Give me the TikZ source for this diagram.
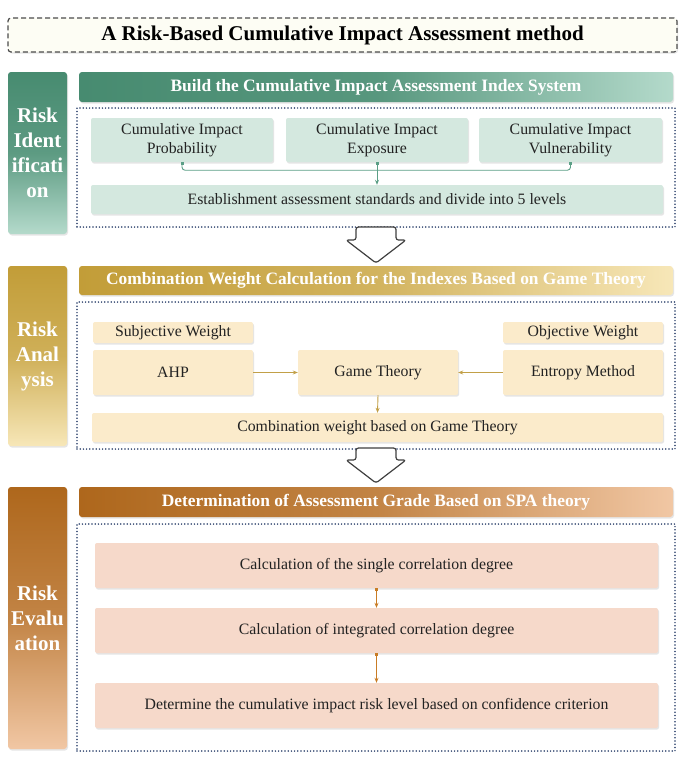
\documentclass[tikz,border=0pt]{standalone}
\usepackage{fontspec}
\setmainfont{Liberation Serif}
\usetikzlibrary{shadows,arrows.meta,calc}
\definecolor{gA}{HTML}{478B70}\definecolor{gB}{HTML}{B4DACB}\definecolor{gBox}{HTML}{D4E8DF}\definecolor{gCon}{HTML}{5B9F86}
\definecolor{yA}{HTML}{C29D38}\definecolor{yB}{HTML}{F7E7B8}\definecolor{yBox}{HTML}{FBEBCB}\definecolor{yCon}{HTML}{C2A048}
\definecolor{oA}{HTML}{AE671C}\definecolor{oB}{HTML}{F1C7A4}\definecolor{oBox}{HTML}{F6D9CA}\definecolor{oCon}{HTML}{C97C25}
\definecolor{navy}{HTML}{2A3F6B}\definecolor{txt}{HTML}{222222}
\begin{document}
\begin{tikzpicture}[x=1pt,y=-1pt,
  shd/.style={drop shadow={shadow xshift=1pt,shadow yshift=-1.5pt,opacity=0.22,fill=black!45}},
  bx/.style={rectangle,rounded corners=2pt,inner sep=0pt,align=center,text=txt,font=\fontsize{15.8}{19}\selectfont,shd},
  sidebar/.style={rectangle,rounded corners=3pt,inner sep=0pt,minimum width=59pt,align=center,text=white,font=\bfseries\fontsize{21}{25}\selectfont,shd},
  header/.style={rectangle,rounded corners=3pt,inner sep=0pt,minimum width=594pt,align=center,text=white,font=\bfseries\fontsize{17.4}{20}\selectfont,shd},
  dotbox/.style={rectangle,draw=navy,line width=1.7pt,dash pattern=on 0pt off 3.2pt,line cap=round,minimum width=598pt,inner sep=0pt},
  conn/.style={line width=0.9pt,-{Stealth[length=5pt,width=4pt]}},
  bigarrow/.style={draw=black!75,line width=1.2pt,fill=white,rounded corners=2.5pt,line join=round}]
\useasboundingbox[fill=white] (0,0) rectangle (685,761);

% title
\node[rectangle,rounded corners=3pt,draw=black!70,line width=1.2pt,dash pattern=on 5pt off 3pt,fill={rgb,255:red,253;green,253;blue,244},minimum width=669pt,minimum height=34pt,inner sep=0pt,font=\bfseries\fontsize{21}{25}\selectfont,shd] (title) at (342.5,35) {A Risk-Based Cumulative Impact Assessment method};

% ---------- section 1
\node[sidebar,minimum height=162pt,top color=gA,bottom color=gB,middle color=gA!80!gB] (bar1) at (37.5,153) {Risk\\Ident\\ificati\\on};
\node[header,minimum height=30pt,left color=gA,right color=gB,middle color=gA!85!gB] (hd1) at (376,87) {Build the Cumulative Impact Assessment Index System};
\node[dotbox,minimum height=119pt] (dot1) at (376,167.5) {};
\node[bx,fill=gBox,minimum width=182pt,minimum height=44pt] (p) at (182,140) {Cumulative Impact\\Probability};
\node[bx,fill=gBox,minimum width=182pt,minimum height=44pt] (e) at (377,140) {Cumulative Impact\\Exposure};
\node[bx,fill=gBox,minimum width=183pt,minimum height=44pt] (v) at (570.5,140) {Cumulative Impact\\Vulnerability};
\node[bx,fill=gBox,minimum width=572pt,minimum height=29pt] (est) at (377,199.5) {Establishment assessment standards and divide into 5 levels};
\draw[gCon,line width=0.9pt,rounded corners=3pt] (p.south) |- ($(e.south)+(0,8)$) -| (v.south);
\draw[gCon,conn] (e.south) -- (est.north);
\fill[gCon] ($(p.south)+(-1.5,0)$) rectangle ++(3,3);
\fill[gCon] ($(e.south)+(-1.5,0)$) rectangle ++(3,3);
\fill[gCon] ($(v.south)+(-1.5,0)$) rectangle ++(3,3);

% big arrow 1
\draw[bigarrow] (356,227) -- (356,240) -- (346,240) -- (376,263) -- (406,240) -- (396,240) -- (396,227) -- cycle;

% ---------- section 2
\node[sidebar,minimum height=180pt,top color=yA,bottom color=yB,middle color=yA!75!yB] (bar2) at (37.5,356) {Risk\\Anal\\ysis};
\node[header,minimum height=29pt,left color=yA,right color=yB,middle color=yA!70!yB] (hd2) at (376,280.5) {Combination Weight Calculation for the Indexes Based on Game Theory};
\node[dotbox,minimum height=147pt] (dot2) at (376,375.5) {};
\node[bx,fill=yBox,minimum width=160pt,minimum height=21pt] (sw) at (173,332.5) {Subjective Weight};
\node[bx,fill=yBox,minimum width=160pt,minimum height=45pt] (ahp) at (173,372.5) {AHP};
\node[bx,fill=yBox,minimum width=160pt,minimum height=45pt] (gt) at (378,372.5) {Game Theory};
\node[bx,fill=yBox,minimum width=160pt,minimum height=21pt] (ow) at (583,332.5) {Objective Weight};
\node[bx,fill=yBox,minimum width=160pt,minimum height=45pt] (ent) at (583,372.5) {Entropy Method};
\node[bx,fill=yBox,minimum width=571pt,minimum height=29pt] (comb) at (377.5,427.5) {Combination weight based on Game Theory};
\draw[yCon,conn] (ahp.east) -- (gt.west);
\draw[yCon,conn] (ent.west) -- (gt.east);
\draw[yCon,conn] (gt.south) -- (comb.north);

% big arrow 2
\draw[bigarrow] (356,448) -- (356,460) -- (346,460) -- (376,483) -- (406,460) -- (396,460) -- (396,448) -- cycle;

% ---------- section 3
\node[sidebar,minimum height=262pt,top color=oA,bottom color=oB,middle color=oA!70!oB] (bar3) at (37.5,618) {Risk\\Evalu\\ation};
\node[header,minimum height=30pt,left color=oA,right color=oB,middle color=oA!70!oB] (hd3) at (376,502) {Determination of Assessment Grade Based on SPA theory};
\node[dotbox,minimum height=227pt] (dot3) at (376,637.5) {};
\node[bx,fill=oBox,minimum width=563pt,minimum height=45pt] (c1) at (376.5,565.5) {Calculation of the single correlation degree};
\node[bx,fill=oBox,minimum width=563pt,minimum height=45pt] (c2) at (376.5,630.5) {Calculation of integrated correlation degree};
\node[bx,fill=oBox,minimum width=563pt,minimum height=45pt] (c3) at (376.5,705.5) {Determine the cumulative impact risk level based on confidence criterion};
\draw[oCon,conn] (c1.south) -- (c2.north);
\draw[oCon,conn] (c2.south) -- (c3.north);
\fill[oCon] ($(c1.south)+(-1.5,0)$) rectangle ++(3,3);
\fill[oCon] ($(c2.south)+(-1.5,0)$) rectangle ++(3,3);
\end{tikzpicture}
\end{document}
